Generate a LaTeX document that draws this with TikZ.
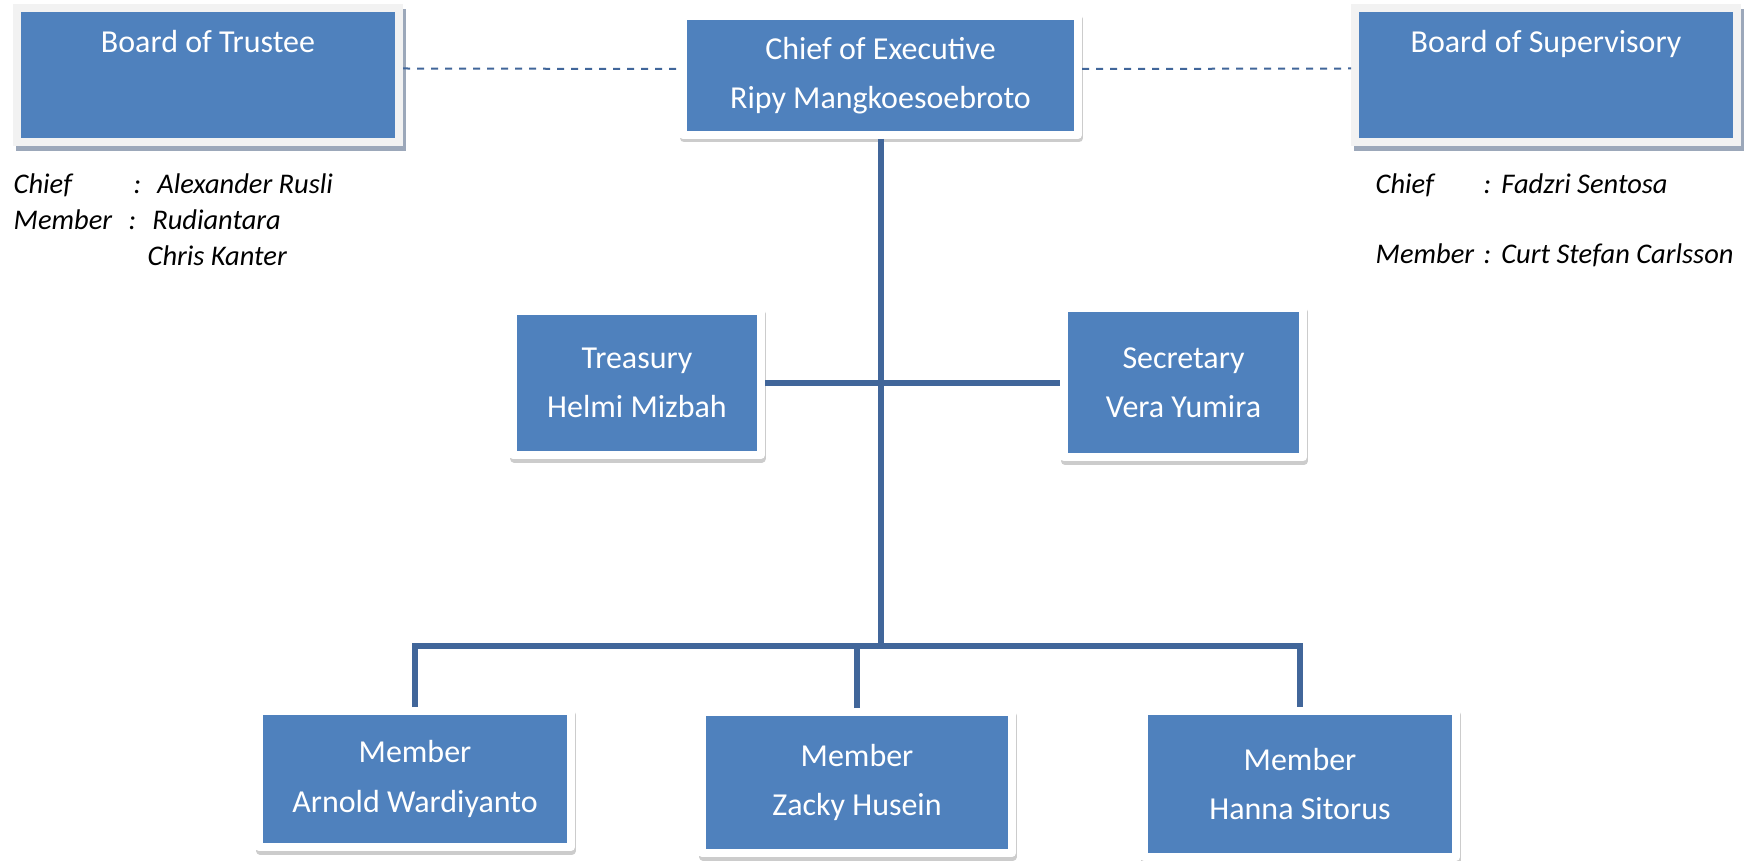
\documentclass[tikz,border=0pt]{standalone}
\usepackage{fontspec}
\setmainfont{Carlito}
\usepackage{tikz}
\usetikzlibrary{positioning}

\definecolor{boxblue}{HTML}{4F81BD}
\definecolor{linkblue}{HTML}{41669A}
\definecolor{boardframe}{HTML}{F2F2F2}
\definecolor{boardshadow}{HTML}{9CA8BA}

\begin{document}
\begin{tikzpicture}[
        frame/.style={fill=boxblue, line width=0.08cm, inner sep=0pt, text=white, align=center,
            font=\fontsize{9.1}{14}\selectfont},
        box/.style={frame, draw=white, line join=round,
            preaction={fill=black!20, draw=black!20, line width=0.08cm, line join=round,
                transform canvas={shift={(0.01,-0.035)}}}},
        board/.style={frame, draw=boardframe, minimum width=3.82cm, minimum height=1.34cm,
            text height=0.22cm, text depth=0.66cm,
            preaction={fill=boardshadow, draw=boardshadow, line width=0.08cm,
                transform canvas={shift={(0.03,-0.05)}}}},
        note/.style={inner sep=0pt, align=left, font=\itshape\fontsize{8.1}{10.2}\selectfont},
        link/.style={draw=linkblue, line width=0.06cm},
        dashlink/.style={draw=linkblue, line width=0.02cm, dash pattern=on 0.07cm off 0.07cm}
    ]
    \useasboundingbox (0,0) rectangle (17.53,8.60);

    % Nodes
    \node[board] (trustee) at (2.08,7.85)      {Board of Trustee};
    \node[board] (supervisory) at (15.46,7.85) {Board of Supervisory};
    \node[box, minimum width=3.95cm, minimum height=1.19cm] (ceo) at (8.805,7.845) {Chief of Executive\\Ripy Mangkoesoebroto};
    \node[box, minimum width=2.48cm, minimum height=1.44cm] (treasury) at (6.37,4.77)   {Treasury\\Helmi Mizbah};
    \node[box, minimum width=2.39cm, minimum height=1.49cm] (secretary) at (11.835,4.77) {Secretary\\Vera Yumira};
    \node[box, minimum width=3.12cm, minimum height=1.36cm] (member1) at (4.15,0.81)  {Member\\Arnold Wardiyanto};
    \node[box, minimum width=3.10cm, minimum height=1.41cm] (member2) at (8.57,0.775) {Member\\Zacky Husein};
    \node[box, minimum width=3.12cm, minimum height=1.46cm] (member3) at (13.00,0.76) {Member\\Hanna Sitorus};

    \node[note, anchor=north west] (trusteenote) at (0.13,6.87)
        {\makebox[1.20cm][l]{Chief}:\hspace{0.16cm}Alexander Rusli\\
         \makebox[1.15cm][l]{Member}:\hspace{0.16cm}Rudiantara\\
         \hspace*{1.34cm}Chris Kanter};
    \node[note, anchor=north west] (supervisorynote) at (13.75,6.87)
        {\makebox[1.08cm][l]{Chief}:\hspace{0.1cm}Fadzri Sentosa\\[0.34cm]
         \makebox[1.08cm][l]{Member}:\hspace{0.1cm}Curt Stefan Carlsson};

    \coordinate (bus) at (8.805,2.14);

    % Links
    \draw[dashlink] ([yshift=0.065cm]trustee.east) -- ([yshift=0.065cm]ceo.west);
    \draw[dashlink] ([yshift=0.065cm]ceo.east) -- ([yshift=0.065cm]supervisory.west);
    \draw[link] (ceo.south) -- (bus);
    \draw[link] (treasury.east) -- (secretary.west);
    \draw[link] (member1.north) |- (bus) -| (member3.north);
    \draw[link] (member2.north) -- (member2.north |- bus);
\end{tikzpicture}
\end{document}
